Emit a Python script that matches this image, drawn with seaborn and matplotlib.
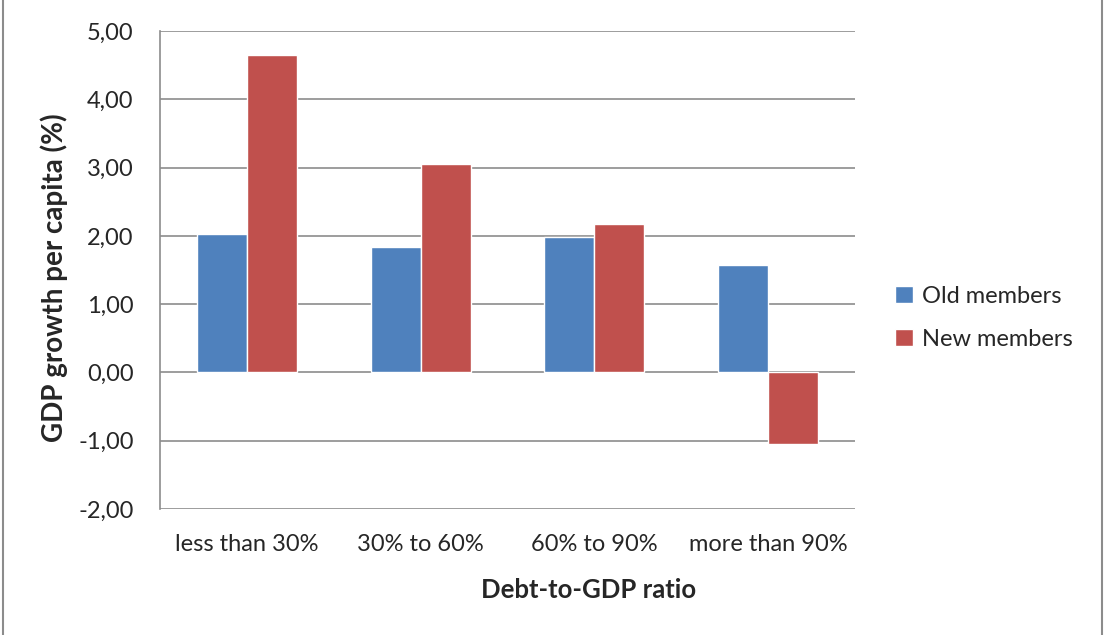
import pandas as pd
import seaborn as sns
import matplotlib.pyplot as plt
from matplotlib.lines import Line2D
from matplotlib.ticker import FuncFormatter

categories = ['less than 30%', '30% to 60%', '60% to 90%', 'more than 90%']
old_members = [2.03, 1.84, 1.99, 1.57]
new_members = [4.65, 3.05, 2.17, -1.05]
series = ['Old members', 'New members']
colors = ['#4F81BD', '#C0504D']

df = pd.DataFrame({
    'ratio': categories * 2,
    'growth': old_members + new_members,
    'group': [series[0]] * 4 + [series[1]] * 4,
})

sns.set_style('white')
plt.rcParams['font.family'] = ['Lato', 'DejaVu Sans']

fig = plt.figure(figsize=(11.04, 6.35), dpi=100)
ax = fig.add_axes([0.1449, 0.1984, 0.6296, 0.7528])

sns.barplot(data=df, x='ratio', y='growth', hue='group', palette=colors,
            width=0.576, saturation=1, ax=ax, legend=True)

ax.set_ylim(-2, 5)
ax.set_yticks(range(-2, 6))
ax.yaxis.set_major_formatter(FuncFormatter(lambda v, p: f'{v:.2f}'.replace('.', ',')))
ax.grid(axis='y', color='#8c8c8c', linewidth=1.2)
ax.set_axisbelow(True)
for s in ['top', 'right', 'bottom']:
    ax.spines[s].set_visible(False)
ax.spines['left'].set_color('#8c8c8c')
ax.spines['left'].set_linewidth(1.2)
ax.tick_params(axis='y', length=7, color='#8c8c8c', width=1.2, labelsize=17, pad=12)
ax.tick_params(axis='x', length=0, labelsize=17, pad=18)

ax.set_xlabel('Debt-to-GDP ratio', fontsize=18.5, fontweight='bold')
ax.set_ylabel('GDP growth per capita (%)', fontsize=20, fontweight='bold')
ax.xaxis.set_label_coords(0.617, -0.144)
ax.yaxis.set_label_coords(-0.132, 0.483)

leg = ax.legend(loc='center left', bbox_to_anchor=(1.044, 0.40), frameon=False,
                fontsize=17, handlelength=0.75, handleheight=0.75,
                handletextpad=0.4, labelspacing=0.95, borderaxespad=0)

# chart frame edges
fig.add_artist(Line2D([0.003, 0.003], [0, 1], color='#8c8c8c', linewidth=1.5))
fig.add_artist(Line2D([0.998, 0.998], [0, 1], color='#8c8c8c', linewidth=1.5))

fig.savefig('out.png', dpi=100)
